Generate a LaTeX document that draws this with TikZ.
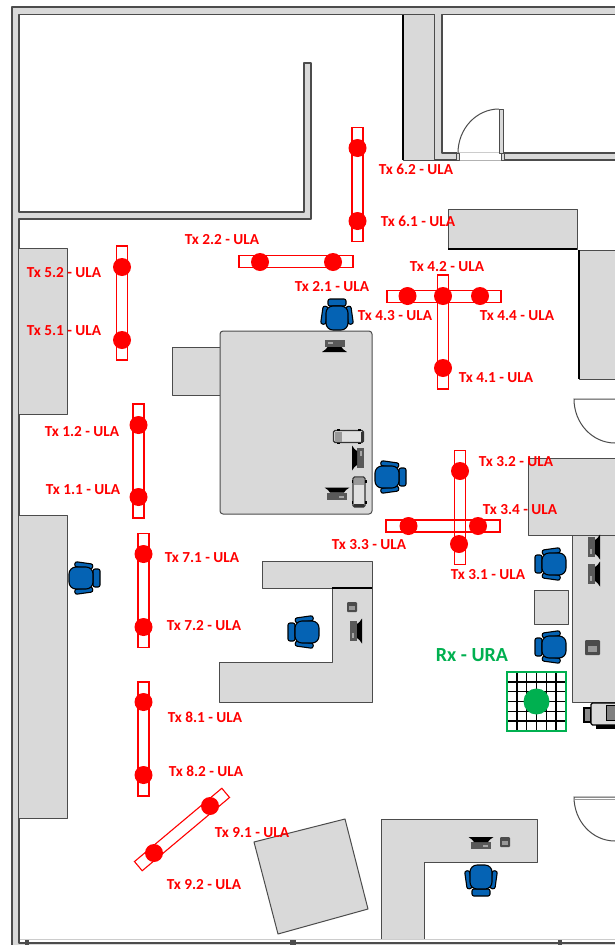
\documentclass[tikz,border=0pt]{standalone}
\usepackage{fontspec}
\setmainfont{Carlito}
\definecolor{deskgray}{HTML}{D9D9D9}
\definecolor{chairblue}{HTML}{0563B4}
\definecolor{rxgreen}{HTML}{00B050}
\tikzset{
	desk/.style = {draw=black!70, fill=deskgray, line width=1pt, line join=round},
	wall/.style = {draw=black!70, fill=deskgray, line width=1.2pt, line join=round},
	room/.style = {draw=black!70, fill=white, line width=1.2pt, line join=round},
	ula/.style = {shape=rectangle, draw=red, line width=1.1pt, inner sep=0pt, anchor=center},
	element/.style = {shape=circle, fill=red, inner sep=0pt, minimum size=18pt},
	txlabel/.style = {text=red, font=\bfseries\fontsize{15.3}{17}\selectfont, inner sep=0pt, yshift=-.8pt},
	chair/.pic = {
		\draw [fill=chairblue, draw=black, line width=1.1pt, rounded corners=2pt] (-9,-16) rectangle (9,-9);
		\draw [fill=chairblue, draw=black, line width=1.1pt, rotate=-8, rounded corners=2pt] (-15,-7) rectangle (-10,11);
		\draw [fill=chairblue, draw=black, line width=1.1pt, rotate=8, rounded corners=2pt] (10,-7) rectangle (15,11);
		\draw [fill=chairblue, draw=black, line width=1.1pt, rounded corners=7pt] (-11,-9) rectangle (11,15);
	},
	monitor/.pic = {
		\fill [black!65] (-10,-5) rectangle (10,2);
		\fill [black!35] (-7,-3) rectangle (-2,-1);
		\fill [black] (-7,2) -- (7,2) -- (9,4.5) -- (12.5,7) -- (-12.5,7) -- (-9,4.5) -- cycle;
	},
	tray/.pic = {
		\draw [fill=black!12, draw=black!80, line width=1.1pt, rounded corners=1.5pt] (-15,-6) rectangle (15,6);
		\fill [black!40] (-14,-5) rectangle (-7,5);
		\fill [black!80] (12,-5) rectangle (15,5);
		\fill [black] (-12,-7.5) rectangle (-9,-6);
		\fill [black] (9,-7.5) rectangle (12,-6);
		\fill [black] (-12,6) rectangle (-9,7.5);
		\fill [black] (9,6) rectangle (12,7.5);
	},
	handset/.pic = {
		\fill [black!70, rounded corners=1pt] (-5,-5) rectangle (5,5);
		\fill [black!40] (-3,-1) rectangle (3,3);
	}
}
\begin{document}
\begin{tikzpicture}[x=1pt,y=-1pt]
  \useasboundingbox (0,0) rectangle (615,945);
  % walls
  \draw [wall] (12,7) rectangle (640,960);
  \draw [room] (19,14.5) -- (434,14.5) -- (434,160) -- (640,160) -- (640,943) -- (19,943) -- (19,219) -- (311,219)
  	-- (311,63) -- (304,63) -- (304,212) -- (19,212) -- cycle;
  \draw [room] (442,14.5) -- (640,14.5) -- (640,153) -- (504,153) -- (504,160) -- (457,160) -- (457,153) -- (442,153) -- cycle;
  \fill [white] (458,150) rectangle (503,163);
  \draw [black!20, line width=.8pt] (457,152.5) -- (504,152.5);
  \draw [black!30, line width=.8pt] (457,160) -- (504,160);
  \draw [black!20, line width=1pt] (20,939) -- (615,939);
  \draw [desk] (403,14.5) rectangle (434,160);
  \draw [black, line width=1.5pt] (403,14.5) -- (403,160);
  % door
  \draw [desk] (499,109) rectangle (503,153);
  \draw [black!70, line width=1pt] (499,109) arc [start angle=-90, end angle=-180, x radius=41, y radius=44];
  \draw [desk] (456,153) rectangle (459,160);
  \draw [desk] (501,153) rectangle (504,160);
  % posts in the floor wall
  \fill [black!70] (25,940) rectangle (29,945);
  \fill [black!70] (290,940) rectangle (296,945);
  \fill [black!70] (558,940) rectangle (562,945);
  % desks and furniture
  \draw [desk] (19,248) -- (67,248) -- (67,414) -- (19,414);
  \draw [desk] (19,515) -- (67,515) -- (67,818) -- (19,818);
  \draw [desk] (172,347) rectangle (220,395);
  \draw [desk, rounded corners=3pt] (220,331) rectangle (372,514);
  \draw [desk] (262,561) rectangle (372,588);
  \draw [desk] (332,588) -- (372,588) -- (372,702) -- (219,702) -- (219,662) -- (332,662) -- cycle;
  \draw [black, line width=1.2pt] (332,588) -- (372,588);
  \draw [desk] (448,209) rectangle (577,249);
  \draw [black, line width=1.5pt] (448,249) -- (577,249);
  \draw [desk] (620,250) -- (579,250) -- (579,379) -- (620,379);
  \draw [black, line width=1.5pt] (579,250) -- (579,379);
  \draw [desk] (620,458) -- (528,458) -- (528,535) -- (620,535);
  \draw [desk] (620,535) -- (572,535) -- (572,702) -- (620,702);
  \draw [desk] (534,590) rectangle (568,624);
  \draw [desk] (254,842) -- (345,819) -- (368,909) -- (278,934) -- cycle;
  \draw [desk] (381,939) -- (381,819) -- (537,819) -- (537,862) -- (424,862) -- (424,939);
  % half circle tables
  \draw [black!70, fill=white, line width=1pt] (620,399) -- (574,399) arc [start angle=180, end angle=90, x radius=41, y radius=44] -- (620,443);
  \draw [black!70, fill=white, line width=1pt] (620,797) -- (574,797) arc [start angle=180, end angle=90, x radius=41, y radius=44] -- (620,841);
  \draw [deskgray!70!black, line width=1pt] (575,799) -- (615,799);
  % office equipment
  \pic at (334.5,345) {monitor};
  \pic [rotate=-90] at (359,458) {monitor};
  \pic [rotate=180] at (337,494.5) {monitor};
  \pic [rotate=90] at (593,547) {monitor};
  \pic [rotate=90] at (593,574) {monitor};
  \pic [rotate=90] at (355,631) {monitor};
  \pic [rotate=180] at (481,844) {monitor};
  \pic at (348.5,436.5) {tray};
  \pic [rotate=-90] at (359,492) {tray};
  \pic at (352,607) {handset};
  \pic at (505,842) {handset};
  \pic [scale=1.5] at (592.5,647.5) {handset};
  % projector
  \draw [fill=black!45, draw=black, line width=1.1pt] (584,708) rectangle (591,722);
  \draw [fill=black!15, draw=black, line width=1.1pt, rounded corners=1.5pt] (591,703) rectangle (620,725);
  \draw [fill=black!50, draw=black, line width=.8pt] (606,705) rectangle (620,720);
  \fill [black] (596,725) rectangle (620,729);
  % chairs
  \pic at (337,315) {chair};
  \pic [rotate=-90] at (390,477) {chair};
  \pic [rotate=-90] at (84,578) {chair};
  \pic [rotate=90] at (304,632) {chair};
  \pic [rotate=90] at (551,564) {chair};
  \pic [rotate=90] at (551,647) {chair};
  \pic [rotate=180] at (481,880) {chair};
  % transmit arrays
  \node [ula, minimum width=11pt, minimum height=114pt] (tx5) at (122,303) {};
  \node [ula, minimum width=11pt, minimum height=114pt] (tx1) at (138.5,461) {};
  \node [ula, minimum width=11pt, minimum height=114pt] (tx7) at (143.5,590.5) {};
  \node [ula, minimum width=11pt, minimum height=114pt] (tx8) at (143.5,739) {};
  \node [ula, minimum width=11pt, minimum height=114pt] (tx6) at (357.5,184.5) {};
  \node [ula, minimum width=114pt, minimum height=12pt] (tx2) at (296,261.5) {};
  \node [ula, minimum width=11pt, minimum height=114pt] (tx4v) at (443,332) {};
  \node [ula, minimum width=114pt, minimum height=12pt] (tx4h) at (444,296.5) {};
  \node [ula, minimum width=11pt, minimum height=114pt] (tx3v) at (460,507.5) {};
  \node [ula, minimum width=114pt, minimum height=12pt] (tx3h) at (443,526) {};
  \node [ula, minimum width=114pt, minimum height=12pt, rotate=40] (tx9) at (182,829.5) {};
  \node [element] (e52) at (122,267) {};
  \node [element] (e51) at (122,340) {};
  \node [element] (e12) at (138.5,425) {};
  \node [element] (e11) at (138.5,497) {};
  \node [element] (e71) at (143.5,554) {};
  \node [element] (e72) at (143.5,627) {};
  \node [element] (e81) at (143.5,702) {};
  \node [element] (e82) at (143.5,775) {};
  \node [element] (e91) at (210,806) {};
  \node [element] (e92) at (154,853) {};
  \node [element] (e22) at (260,262) {};
  \node [element] (e21) at (333,262) {};
  \node [element] (e62) at (357.5,148) {};
  \node [element] (e61) at (357.5,221) {};
  \node [element] (e42) at (443,296) {};
  \node [element] (e43) at (407.5,296) {};
  \node [element] (e44) at (480,296) {};
  \node [element] (e41) at (443,368) {};
  \node [element] (e32) at (460,471) {};
  \node [element] (e31) at (459,544) {};
  \node [element] (e33) at (408.5,526) {};
  \node [element] (e34) at (478,526) {};
  % receive array
  \draw [black, line width=1.5pt, shift={(507,672)}] (0,0) grid [step=9.83pt] (59,59);
  \node [shape=rectangle, draw=rxgreen, line width=1.3pt, minimum size=59pt, inner sep=0pt] (rx) at (536.5,701.5) {};
  \node [shape=circle, fill=rxgreen, minimum size=26pt, inner sep=0pt] (rxdot) at (536.5,701.5) {};
  \node [text=rxgreen, font=\bfseries\fontsize{20}{22}\selectfont, inner sep=0pt] (rxlabel) at (472,655) {Rx - URA};
  % labels
  \node [txlabel] (l62) at (416,169) {Tx 6.2 - ULA};
  \node [txlabel] (l61) at (418,221) {Tx 6.1 - ULA};
  \node [txlabel] (l22) at (222,239) {Tx 2.2 - ULA};
  \node [txlabel] (l21) at (332,286) {Tx 2.1 - ULA};
  \node [txlabel] (l52) at (64,272) {Tx 5.2 - ULA};
  \node [txlabel] (l51) at (64,330) {Tx 5.1 - ULA};
  \node [txlabel] (l42) at (447,266) {Tx 4.2 - ULA};
  \node [txlabel] (l43) at (395,315) {Tx 4.3 - ULA};
  \node [txlabel] (l44) at (517,315) {Tx 4.4 - ULA};
  \node [txlabel] (l41) at (496,377) {Tx 4.1 - ULA};
  \node [txlabel] (l12) at (82,431) {Tx 1.2 - ULA};
  \node [txlabel] (l11) at (83,489) {Tx 1.1 - ULA};
  \node [txlabel] (l71) at (202,557) {Tx 7.1 - ULA};
  \node [txlabel] (l72) at (204,625) {Tx 7.2 - ULA};
  \node [txlabel] (l81) at (205,716) {Tx 8.1 - ULA};
  \node [txlabel] (l82) at (206,770) {Tx 8.2 - ULA};
  \node [txlabel] (l91) at (252,832) {Tx 9.1 - ULA};
  \node [txlabel] (l92) at (204,884) {Tx 9.2 - ULA};
  \node [txlabel] (l32) at (516,461) {Tx 3.2 - ULA};
  \node [txlabel] (l34) at (520,509) {Tx 3.4 - ULA};
  \node [txlabel] (l33) at (369,544) {Tx 3.3 - ULA};
  \node [txlabel] (l31) at (488,574) {Tx 3.1 - ULA};
\end{tikzpicture}
\end{document}
